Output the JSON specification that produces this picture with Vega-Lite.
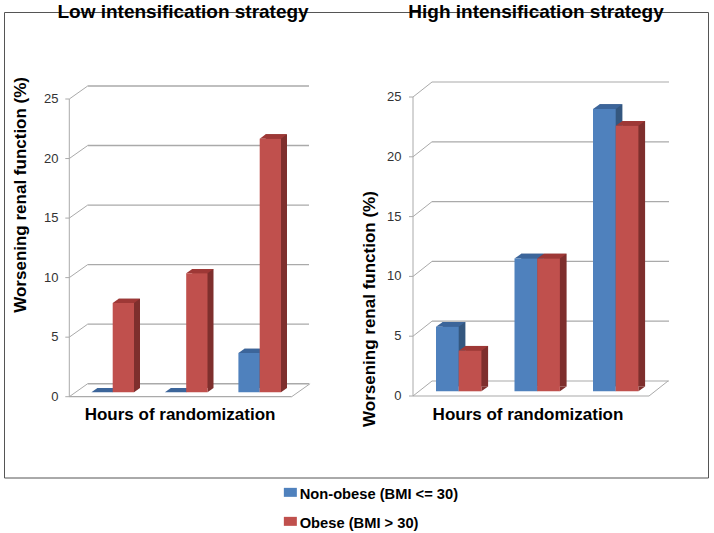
{
"$schema":"https://vega.github.io/schema/vega-lite/v6.json",
"width":714,"height":533,"padding":0,"autosize":{"type":"none"},"background":"white",
"config":{"font":"Liberation Sans","view":{"stroke":null}},
"datasets":{
"low":[{"group":"1","series":"Non-obese (BMI <= 30)","value":0},{"group":"1","series":"Obese (BMI > 30)","value":7.5},{"group":"2","series":"Non-obese (BMI <= 30)","value":0},{"group":"2","series":"Obese (BMI > 30)","value":10},{"group":"3","series":"Non-obese (BMI <= 30)","value":3.3},{"group":"3","series":"Obese (BMI > 30)","value":21.3}],
"high":[{"group":"1","series":"Non-obese (BMI <= 30)","value":5.4},{"group":"1","series":"Obese (BMI > 30)","value":3.4},{"group":"2","series":"Non-obese (BMI <= 30)","value":11.1},{"group":"2","series":"Obese (BMI > 30)","value":11.1},{"group":"3","series":"Non-obese (BMI <= 30)","value":23.6},{"group":"3","series":"Obese (BMI > 30)","value":22.2}],
"ticks":[{"tick":0},{"tick":5},{"tick":10},{"tick":15},{"tick":20},{"tick":25}]
},
"resolve":{"scale":{"x":"independent","y":"independent","xOffset":"independent","color":"shared"}},
"layer":[
{"resolve":{"scale":{"xOffset":"independent"}},"layer":[
{"data":{"values":[{}]},"mark":{"type":"rect","filled":false,"stroke":"#555555","strokeWidth":1},"encoding":{"x":{"value":4.5},"x2":{"value":708.5},"y":{"value":12.5},"y2":{"value":478}}},
{"data":{"name":"ticks"},"mark":{"type":"rule","stroke":"#aaaaaa","strokeWidth":1.4,"yOffset":-13,"y2Offset":-13},"encoding":{"y":{"field":"tick","type":"quantitative","axis":null,"scale":{"domain":[0,25],"range":[396.7,99],"nice":false}},"x":{"value":87.7},"x2":{"value":309}}},
{"data":{"name":"ticks"},"mark":{"type":"point","shape":"M-4,0L0,0L18.4,-13","size":4,"filled":false,"stroke":"#aaaaaa","strokeWidth":1,"opacity":1},"encoding":{"y":{"field":"tick","type":"quantitative","axis":null},"x":{"value":69.3}}},
{"data":{"name":"ticks"},"mark":{"type":"text","fontSize":13,"color":"#333333","align":"right","baseline":"middle"},"encoding":{"y":{"field":"tick","type":"quantitative","axis":null},"x":{"value":58.5},"text":{"field":"tick","type":"quantitative"}}},
{"data":{"values":[{"tick":0}]},"mark":{"type":"point","shape":"M0,0L18.4,-13","size":4,"filled":false,"stroke":"#aaaaaa","strokeWidth":1,"opacity":1},"encoding":{"y":{"field":"tick","type":"quantitative","axis":null},"x":{"value":291.7}}},
{"data":{"values":[{"tick":0}]},"mark":{"type":"rule","stroke":"#aaaaaa","strokeWidth":1.2},"encoding":{"y":{"field":"tick","type":"quantitative","axis":null},"x":{"value":69.3},"x2":{"value":291.7}}},
{"data":{"values":[{"tick":0,"top":25}]},"mark":{"type":"rule","stroke":"#aaaaaa","strokeWidth":1},"encoding":{"y":{"field":"tick","type":"quantitative","axis":null},"y2":{"field":"top"},"x":{"value":69.3}}},
{"data":{"name":"low"},"mark":{"type":"bar","yOffset":-8.7,"y2Offset":-8.7},"encoding":{
"x":{"field":"group","type":"nominal","axis":null,"scale":{"domain":["1","2","3"],"range":[69.3,289.8],"paddingInner":0,"paddingOuter":0}},
"xOffset":{"field":"series","type":"nominal","scale":{"range":[28.1,70.7],"paddingInner":0,"paddingOuter":0}},
"y":{"field":"value","type":"quantitative","stack":null,"axis":null},"y2":{"datum":0},
"fill":{"condition":{"test":"datum.series === 'Obese (BMI > 30)'","value":"#7E2F2D"},"value":"#34577F"}}},
{"data":{"name":"low"},"mark":{"type":"point","shape":"M10.65,-4.4L16.65,-8.7L10.65,-8.7Z","size":4,"filled":true,"strokeWidth":0,"opacity":1},"encoding":{
"x":{"field":"group","type":"nominal","axis":null},"xOffset":{"field":"series","type":"nominal","scale":{"type":"band","range":[22.1,64.7],"paddingInner":0,"paddingOuter":0}},
"y":{"datum":0,"axis":null},
"fill":{"condition":{"test":"datum.series === 'Obese (BMI > 30)'","value":"#7E2F2D"},"value":"#34577F"}}},
{"data":{"name":"low"},"mark":{"type":"point","shape":"M-10.65,-4.4L10.65,-4.4L16.65,-8.7L-4.65,-8.7Z","size":4,"filled":true,"strokeWidth":0,"opacity":1},"encoding":{
"x":{"field":"group","type":"nominal","axis":null},"xOffset":{"field":"series","type":"nominal","scale":{"type":"band","range":[22.1,64.7],"paddingInner":0,"paddingOuter":0}},
"y":{"field":"value","type":"quantitative","axis":null},
"fill":{"condition":{"test":"datum.series === 'Obese (BMI > 30)'","value":"#9E3836"},"value":"#3C659A"}}},
{"data":{"name":"low"},"mark":{"type":"bar","yOffset":-4.4,"y2Offset":-4.4},"encoding":{
"x":{"field":"group","type":"nominal","axis":null},
"xOffset":{"field":"series","type":"nominal","scale":{"range":[22.1,64.7],"paddingInner":0,"paddingOuter":0}},
"y":{"field":"value","type":"quantitative","stack":null,"axis":null},"y2":{"datum":0},
"color":{"field":"series","type":"nominal","scale":{"domain":["Non-obese (BMI <= 30)","Obese (BMI > 30)"],"range":["#4F81BD","#C0504D"]},
"legend":{"orient":"none","legendX":283,"legendY":488,"title":null,"symbolType":"M-6.5,-7.5H6.5V1.5H-6.5Z","symbolSize":4,"symbolStrokeWidth":0,"symbolOpacity":1,"labelFontSize":14.7,"labelFontWeight":"bold","labelColor":"#000000","labelOffset":2,"rowPadding":13,"labelLimit":300}}}},
{"data":{"values":[{"label":"Low intensification strategy"}]},"mark":{"type":"text","fontSize":19,"fontWeight":"bold","color":"#000000","dx":3.5,"align":"center","baseline":"middle"},"encoding":{"x":{"datum":"2","axis":null},"y":{"datum":32.3,"axis":null},"text":{"field":"label"}}},
{"data":{"values":[{"label":"Hours of randomization"}]},"mark":{"type":"text","fontSize":17,"fontWeight":"bold","color":"#000000","dx":0.5,"align":"center","baseline":"middle"},"encoding":{"x":{"datum":"2","axis":null},"y":{"datum":-1.54,"axis":null},"text":{"field":"label"}}},
{"data":{"values":[{"label":"Worsening renal function (%)"}]},"mark":{"type":"text","fontSize":17,"fontWeight":"bold","color":"#000000","angle":270,"align":"center","baseline":"middle"},"encoding":{"x":{"value":21},"y":{"datum":16.95,"axis":null},"text":{"field":"label"}}}
]},
{"resolve":{"scale":{"xOffset":"independent"}},"layer":[
{"data":{"name":"ticks"},"mark":{"type":"rule","stroke":"#aaaaaa","strokeWidth":1.2,"yOffset":-15,"y2Offset":-15},"encoding":{"y":{"field":"tick","type":"quantitative","axis":null,"scale":{"domain":[0,25],"range":[396,97],"nice":false}},"x":{"value":432},"x2":{"value":669}}},
{"data":{"name":"ticks"},"mark":{"type":"point","shape":"M-4,0L0,0L19,-15","size":4,"filled":false,"stroke":"#aaaaaa","strokeWidth":1,"opacity":1},"encoding":{"y":{"field":"tick","type":"quantitative","axis":null},"x":{"value":413}}},
{"data":{"name":"ticks"},"mark":{"type":"text","fontSize":13,"color":"#333333","align":"right","baseline":"middle"},"encoding":{"y":{"field":"tick","type":"quantitative","axis":null},"x":{"value":401.5},"text":{"field":"tick","type":"quantitative"}}},
{"data":{"values":[{"tick":0}]},"mark":{"type":"point","shape":"M0,0L19,-15","size":4,"filled":false,"stroke":"#aaaaaa","strokeWidth":1,"opacity":1},"encoding":{"y":{"field":"tick","type":"quantitative","axis":null},"x":{"value":649}}},
{"data":{"values":[{"tick":0}]},"mark":{"type":"rule","stroke":"#aaaaaa","strokeWidth":1.2},"encoding":{"y":{"field":"tick","type":"quantitative","axis":null},"x":{"value":413},"x2":{"value":649}}},
{"data":{"values":[{"tick":0,"top":25}]},"mark":{"type":"rule","stroke":"#aaaaaa","strokeWidth":1},"encoding":{"y":{"field":"tick","type":"quantitative","axis":null},"y2":{"field":"top"},"x":{"value":413}}},
{"data":{"name":"high"},"mark":{"type":"bar","yOffset":-9.4,"y2Offset":-9.4},"encoding":{
"x":{"field":"group","type":"nominal","axis":null,"scale":{"domain":["1","2","3"],"range":[413,648.5],"paddingInner":0,"paddingOuter":0}},
"xOffset":{"field":"series","type":"nominal","scale":{"range":[29.7,75.1],"paddingInner":0,"paddingOuter":0}},
"y":{"field":"value","type":"quantitative","stack":null,"axis":null},"y2":{"datum":0},
"fill":{"condition":{"test":"datum.series === 'Obese (BMI > 30)'","value":"#7E2F2D"},"value":"#34577F"}}},
{"data":{"name":"high"},"mark":{"type":"point","shape":"M11.35,-4.7L18.05,-9.4L11.35,-9.4Z","size":4,"filled":true,"strokeWidth":0,"opacity":1},"encoding":{
"x":{"field":"group","type":"nominal","axis":null},"xOffset":{"field":"series","type":"nominal","scale":{"type":"band","range":[23,68.4],"paddingInner":0,"paddingOuter":0}},
"y":{"datum":0,"axis":null},
"fill":{"condition":{"test":"datum.series === 'Obese (BMI > 30)'","value":"#7E2F2D"},"value":"#34577F"}}},
{"data":{"name":"high"},"mark":{"type":"point","shape":"M-11.35,-4.7L11.35,-4.7L18.05,-9.4L-4.65,-9.4Z","size":4,"filled":true,"strokeWidth":0,"opacity":1},"encoding":{
"x":{"field":"group","type":"nominal","axis":null},"xOffset":{"field":"series","type":"nominal","scale":{"type":"band","range":[23,68.4],"paddingInner":0,"paddingOuter":0}},
"y":{"field":"value","type":"quantitative","axis":null},
"fill":{"condition":{"test":"datum.series === 'Obese (BMI > 30)'","value":"#9E3836"},"value":"#3C659A"}}},
{"data":{"name":"high"},"mark":{"type":"bar","yOffset":-4.7,"y2Offset":-4.7},"encoding":{
"x":{"field":"group","type":"nominal","axis":null},
"xOffset":{"field":"series","type":"nominal","scale":{"range":[23,68.4],"paddingInner":0,"paddingOuter":0}},
"y":{"field":"value","type":"quantitative","stack":null,"axis":null},"y2":{"datum":0},
"color":{"field":"series","type":"nominal"}}},
{"data":{"values":[{"label":"High intensification strategy"}]},"mark":{"type":"text","fontSize":19,"fontWeight":"bold","color":"#000000","dx":5.3,"align":"center","baseline":"middle"},"encoding":{"x":{"datum":"2","axis":null},"y":{"datum":32.1,"axis":null},"text":{"field":"label"}}},
{"data":{"values":[{"label":"Hours of randomization"}]},"mark":{"type":"text","fontSize":17,"fontWeight":"bold","color":"#000000","dx":-2.75,"align":"center","baseline":"middle"},"encoding":{"x":{"datum":"2","axis":null},"y":{"datum":-1.59,"axis":null},"text":{"field":"label"}}},
{"data":{"values":[{"label":"Worsening renal function (%)"}]},"mark":{"type":"text","fontSize":17,"fontWeight":"bold","color":"#000000","angle":270,"align":"center","baseline":"middle"},"encoding":{"x":{"value":370},"y":{"datum":7.27,"axis":null},"text":{"field":"label"}}}
]}
]
}
